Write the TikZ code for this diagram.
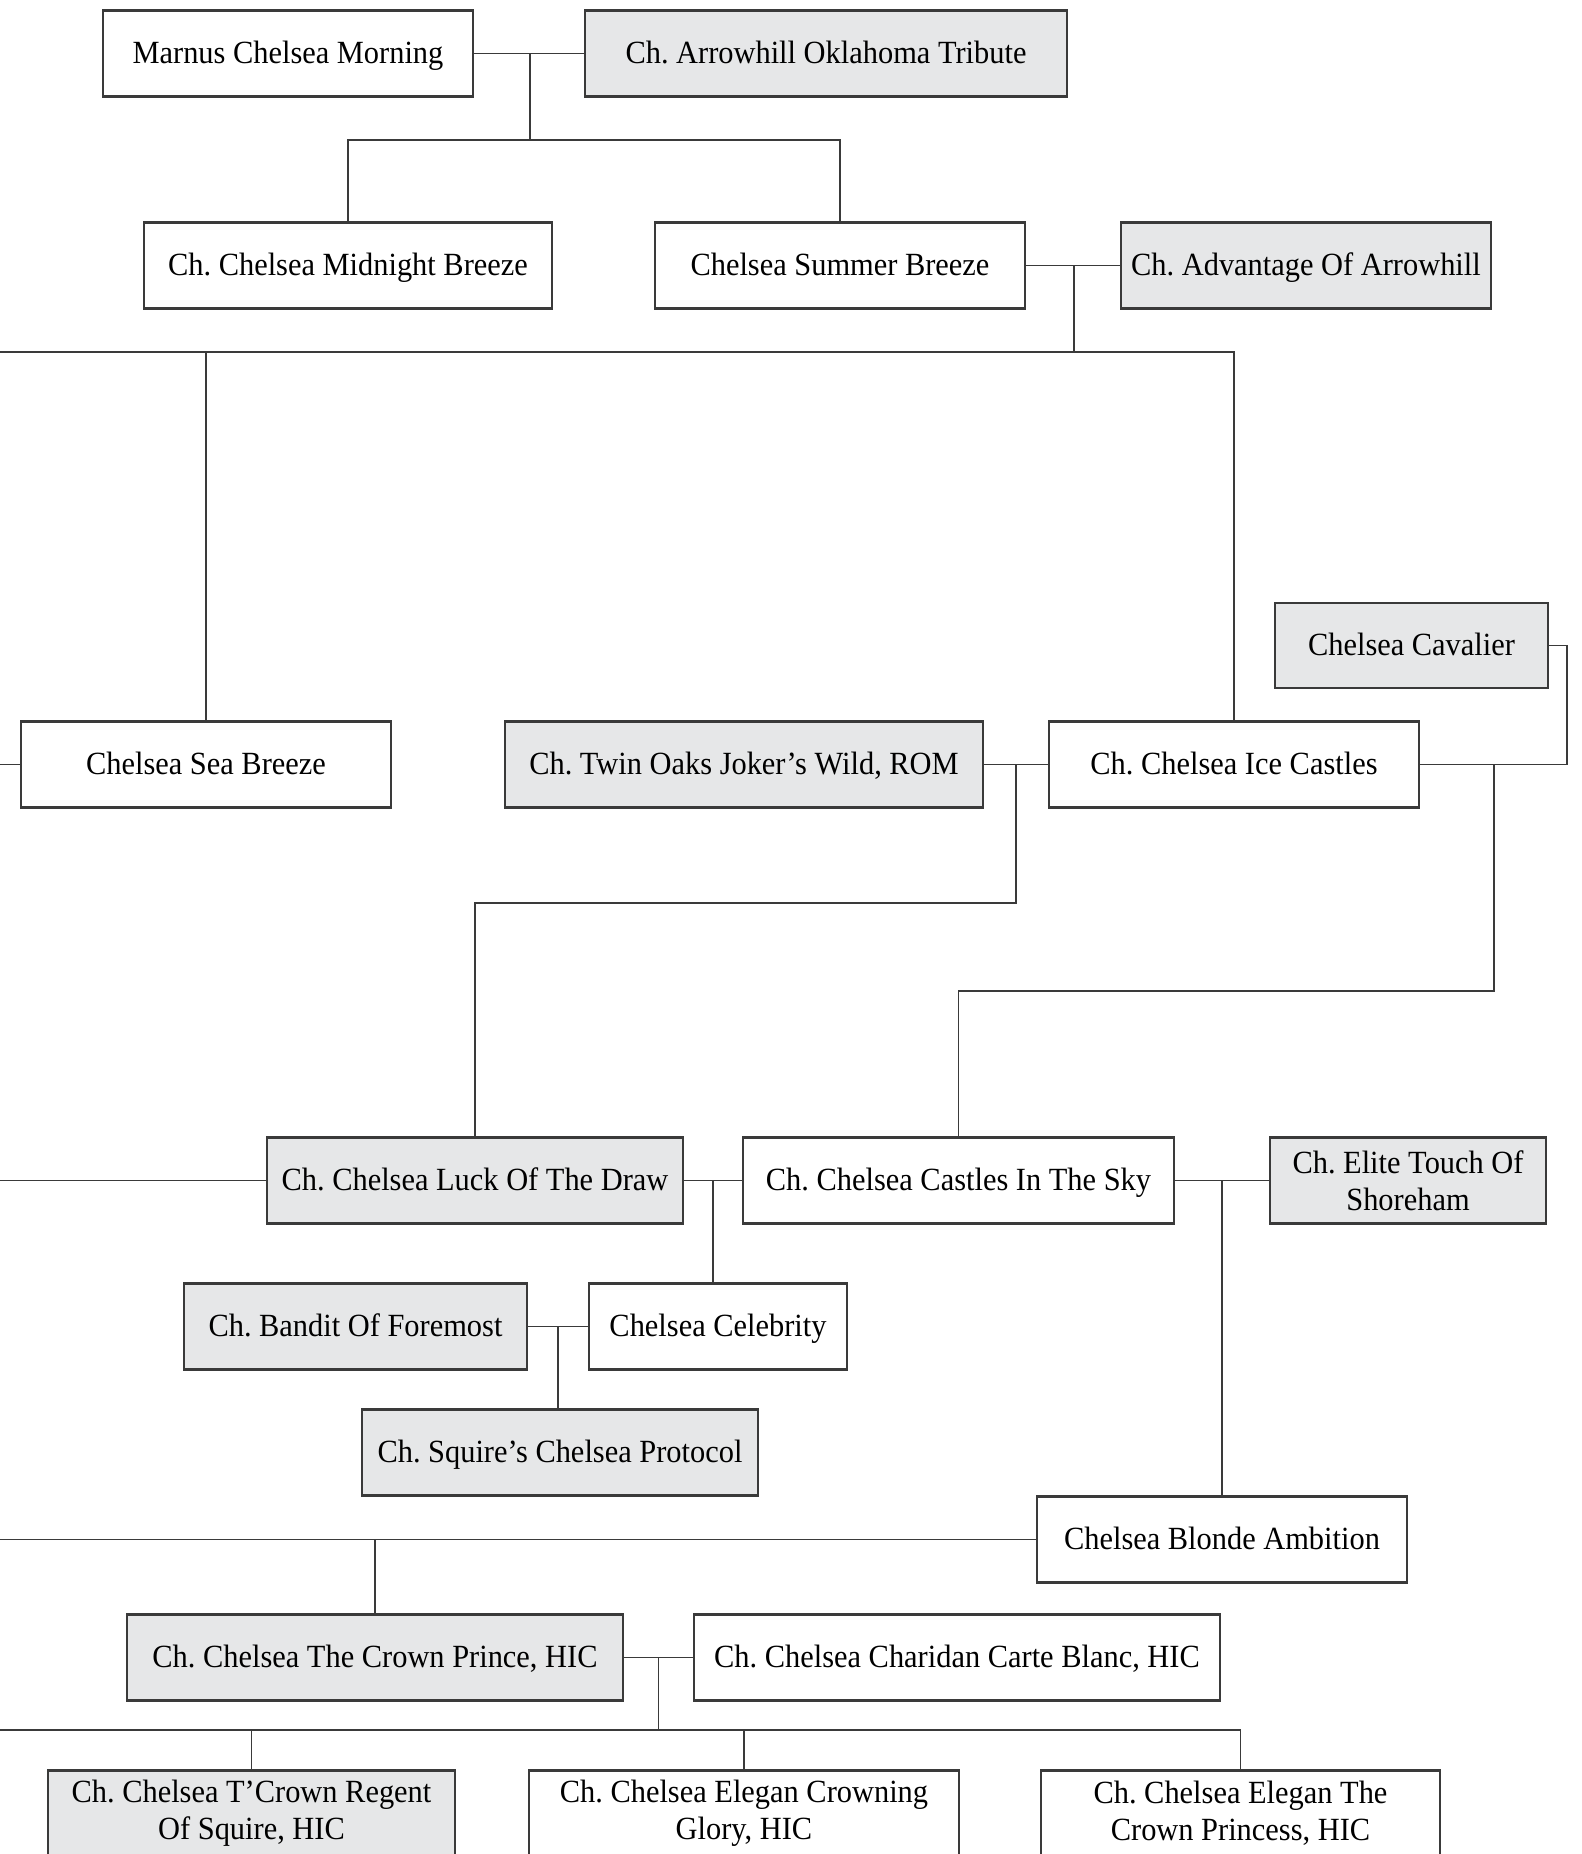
\documentclass[tikz,border=0pt]{standalone}
\usepackage{fontspec}
\setmainfont{Liberation Serif}[FakeStretch=0.94]
\usepackage{tikz}
\usetikzlibrary{calc}

\definecolor{boxgray}{HTML}{E6E7E8}
\definecolor{inkgray}{HTML}{3A3A3A}

\begin{document}
\frenchspacing
\begin{tikzpicture}[x=0.01cm, y=-0.01cm,
	dog/.style={draw=inkgray, line width=0.6pt, inner sep=0pt, minimum height=0.86cm, text height=7.1pt, text depth=1.3pt, font=\fontsize{9.2}{10.6}\selectfont, align=center},
	champ/.style={dog, fill=boxgray},
	twoline/.style={text height={}, text depth={}},
	link/.style={draw=inkgray, line width=0.45pt}]

		\useasboundingbox (0,0) rectangle (1581,1854);

		\node[dog, minimum width=3.70cm] (morning) at (288,53.5) {Marnus Chelsea Morning};
		\node[champ, minimum width=4.82cm] (tribute) at (826,53.5) {Ch. Arrowhill Oklahoma Tribute};
		\draw[link] (morning) -- (tribute);
		\coordinate (m1) at (530,53.5);
		\coordinate (m1b) at (530,140);

		\node[dog, minimum width=4.08cm] (midnight) at (348,265.5) {Ch. Chelsea Midnight Breeze};
		\node[dog, minimum width=3.70cm] (summer) at (840,265.5) {Chelsea Summer Breeze};
		\node[champ, minimum width=3.70cm] (advantage) at (1306,265.5) {Ch. Advantage Of Arrowhill};
		\draw[link] (m1) -- (m1b);
		\draw[link] (midnight.north) |- (m1b) -| (summer.north);
		\draw[link] (summer) -- (advantage);
		\coordinate (m2) at (1074,265.5);
		\coordinate (m2b) at (1074,352);
		\coordinate (l2) at (0,352);

		\node[dog, minimum width=3.70cm] (seabreeze) at (206,764.5) {Chelsea Sea Breeze};
		\node[champ, minimum width=4.78cm] (joker) at (744,764.5) {Ch. Twin Oaks Joker’s Wild, ROM};
		\node[dog, minimum width=3.70cm] (icecastles) at (1234,764.5) {Ch. Chelsea Ice Castles};
		\node[champ, minimum width=2.73cm, minimum height=0.85cm] (cavalier) at (1411.5,645.5) {Chelsea Cavalier};
		\draw[link] (m2) -- (m2b);
		\draw[link] (l2) -| (icecastles.north);
		\draw[link] (seabreeze.north) -- (seabreeze.north |- l2);
		\coordinate (l3) at (0,764.5);
		\draw[link] (l3) -- (seabreeze.west);

		\draw[link] (joker) -- (icecastles);
		\coordinate (m3) at ($(joker.east)!0.5!(icecastles.west)$);
		\coordinate (m3b) at (m3 |- 0,903);
		\coordinate (cv) at (1567,645.5);
		\draw[link] (cavalier.east) -- (cv) |- (icecastles.east);
		\coordinate (m4) at (1494,764.5);
		\coordinate (m4b) at (1494,991);

		\node[champ, minimum width=4.16cm] (luck) at (475,1180.5) {Ch. Chelsea Luck Of The Draw};
		\node[dog, minimum width=4.31cm] (castlessky) at (958.5,1180.5) {Ch. Chelsea Castles In The Sky};
		\node[champ, twoline, minimum width=2.76cm] (elite) at (1408,1180.5) {Ch. Elite Touch Of\\Shoreham};
		\draw[link] (m3) -- (m3b) -| (luck.north);
		\draw[link] (m4) -- (m4b) -| (castlessky.north);
		\coordinate (l5) at (0,1180.5);
		\draw[link] (l5) -- (luck.west);
		\draw[link] (luck) -- (castlessky);
		\draw[link] (castlessky) -- (elite);
		\coordinate (m5) at ($(luck.east)!0.5!(castlessky.west)$);
		\coordinate (m6) at ($(castlessky.east)!0.5!(elite.west)$);

		\node[champ, minimum width=3.43cm] (bandit) at (355.5,1326.5) {Ch. Bandit Of Foremost};
		\node[dog, minimum width=2.58cm] (celebrity) at (718,1326.5) {Chelsea Celebrity};
		\draw[link] (m5) -- (m5 |- celebrity.north);
		\draw[link] (bandit) -- (celebrity);
		\coordinate (m7) at ($(bandit.east)!0.5!(celebrity.west)$);

		\node[champ, minimum width=3.96cm] (protocol) at (560,1452.5) {Ch. Squire’s Chelsea Protocol};
		\draw[link] (m7) -- (m7 |- protocol.north);

		\node[dog, minimum width=3.70cm] (blonde) at (1222,1539.5) {Chelsea Blonde Ambition};
		\draw[link] (m6) -- (m6 |- blonde.north);
		\coordinate (l6) at (0,1539.5);
		\draw[link] (l6) -- (blonde.west);

		\node[champ, minimum width=4.96cm] (crownprince) at (375,1657.5) {Ch. Chelsea The Crown Prince, HIC};
		\node[dog, minimum width=5.26cm] (charidan) at (957,1657.5) {Ch. Chelsea Charidan Carte Blanc, HIC};
		\draw[link] (crownprince.north) -- (crownprince.north |- l6);
		\draw[link] (crownprince) -- (charidan);
		\coordinate (m8) at ($(crownprince.east)!0.5!(charidan.west)$);
		\coordinate (m8b) at (m8 |- 0,1730);
		\coordinate (l8) at (0,1730);

		\node[champ, twoline, minimum width=4.07cm] (regent) at (251.5,1813.5) {Ch. Chelsea T’Crown Regent\\Of Squire, HIC};
		\node[dog, twoline, minimum width=4.30cm] (crowning) at (744,1813.5) {Ch. Chelsea Elegan Crowning\\Glory, HIC};
		\node[dog, twoline, minimum width=3.99cm] (princess) at (1240.5,1813.5) {Ch. Chelsea Elegan The\\Crown Princess, HIC};
		\draw[link] (m8) -- (m8b);
		\draw[link] (l8) -| (princess.north);
		\draw[link] (regent.north) -- (regent.north |- l8);
		\draw[link] (crowning.north) -- (crowning.north |- l8);

\end{tikzpicture}
\end{document}
